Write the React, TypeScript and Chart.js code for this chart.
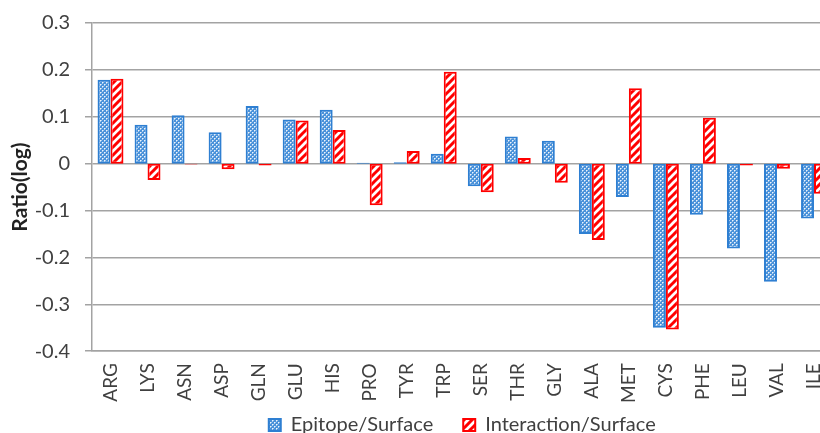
import React, { useEffect, useRef } from "react";
import { Chart, registerables } from "chart.js";

Chart.register(...registerables);

const categories = ["ARG", "LYS", "ASN", "ASP", "GLN", "GLU", "HIS", "PRO", "TYR", "TRP", "SER", "THR", "GLY", "ALA", "MET", "CYS", "PHE", "LEU", "VAL", "ILE"];
const epitopeSurface = [0.179, 0.083, 0.103, 0.067, 0.123, 0.094, 0.115, 0.002, 0.003, 0.021, -0.048, 0.058, 0.049, -0.150, -0.071, -0.350, -0.109, -0.181, -0.252, -0.117];
const interactionSurface = [0.181, -0.035, -0.002, -0.012, -0.004, 0.092, 0.072, -0.089, 0.027, 0.196, -0.061, 0.012, -0.041, -0.163, 0.161, -0.354, 0.098, -0.004, -0.011, -0.064];
const seriesNames = ["Epitope/Surface", "Interaction/Surface"];
const yMin = -0.4;
const yMax = 0.3;
const yStep = 0.1;

const FONT = "Lato, 'Open Sans', sans-serif";
const TEXT = "#404040";
const GRID = "#a3a3a3";
const BLUE = "#2e7fd2";
const RED = "#ff0000";

function bluePattern(): CanvasPattern | string {
  const c = document.createElement("canvas");
  c.width = 4;
  c.height = 4;
  const g = c.getContext("2d");
  if (!g) return BLUE;
  g.fillStyle = "#4a92da";
  g.fillRect(0, 0, 4, 4);
  g.fillStyle = "rgba(255,255,255,0.9)";
  g.fillRect(0, 0, 1, 1);
  g.fillRect(2, 2, 1, 1);
  g.fillStyle = "rgba(255,255,255,0.5)";
  g.fillRect(1, 0, 1, 1);
  g.fillRect(3, 2, 1, 1);
  g.fillRect(0, 1, 1, 1);
  g.fillRect(2, 3, 1, 1);
  return g.createPattern(c, "repeat") || BLUE;
}

function redPattern(): CanvasPattern | string {
  const s = 8;
  const c = document.createElement("canvas");
  c.width = s;
  c.height = s;
  const g = c.getContext("2d");
  if (!g) return RED;
  g.fillStyle = "#ffffff";
  g.fillRect(0, 0, s, s);
  g.strokeStyle = RED;
  g.lineWidth = 3;
  g.beginPath();
  for (let k = -1; k <= 1; k++) {
    g.moveTo(k * s - 1, s + 1);
    g.lineTo(k * s + s + 1, -1);
  }
  g.stroke();
  return g.createPattern(c, "repeat") || RED;
}

export default function App() {
  const ref = useRef<HTMLCanvasElement | null>(null);

  useEffect(() => {
    if (!ref.current) return;
    const chart = new Chart(ref.current, {
      type: "bar",
      data: {
        labels: categories,
        datasets: [
          {
            label: seriesNames[0],
            data: epitopeSurface,
            backgroundColor: bluePattern() as any,
            borderColor: BLUE,
            borderWidth: 2,
            borderSkipped: false,
          },
          {
            label: seriesNames[1],
            data: interactionSurface,
            backgroundColor: redPattern() as any,
            borderColor: RED,
            borderWidth: 2,
            borderSkipped: false,
          },
        ],
      },
      options: {
        responsive: false,
        animation: false,
        layout: { padding: { top: 9, right: 8, left: 8, bottom: 0 } },
        datasets: { bar: { barPercentage: 1, categoryPercentage: 0.7 } },
        plugins: {
          tooltip: { enabled: false },
          legend: {
            position: "bottom",
            fullSize: false,
            labels: {
              boxWidth: 12,
              boxHeight: 12,
              padding: 0,
              color: TEXT,
              font: { family: FONT, size: 20 },
              generateLabels: (ch: any) => {
                const items = Chart.defaults.plugins.legend.labels.generateLabels(ch);
                return items.map((it: any, i: number) => ({
                  ...it,
                  text: i < items.length - 1 ? it.text + "\u2003\u2003" : it.text,
                }));
              },
            },
          },
        },
        scales: {
          x: {
            grid: { display: false, drawTicks: false, tickLength: 0 },
            border: { display: true, color: GRID, width: 1.5 },
            ticks: {
              minRotation: 90,
              maxRotation: 90,
              autoSkip: false,
              padding: 12,
              color: TEXT,
              font: { family: FONT, size: 19 },
            },
          },
          y: {
            min: yMin,
            max: yMax,
            afterFit: (scale: any) => {
              scale.width = 84;
            },
            grid: { color: GRID, lineWidth: 1.5, tickLength: 7 },
            border: { display: true, color: GRID, width: 1.5 },
            ticks: {
              stepSize: yStep,
              padding: 15,
              color: TEXT,
              font: { family: FONT, size: 20 },
              callback: (v: any) => {
                const n = Math.round(Number(v) * 10) / 10;
                return n === 0 ? "0" : n.toFixed(1);
              },
            },
            title: {
              display: true,
              text: "Ratio(log)",
              color: "#222222",
              font: { family: FONT, size: 21, weight: "bold" },
              padding: { top: 0, bottom: 2 },
            },
          },
        },
      },
    });
    return () => chart.destroy();
  }, []);

  return (
    <div style={{ position: "fixed", left: 0, top: 0, width: 820, height: 433, overflow: "hidden", background: "#fff" }}>
      <canvas ref={ref} width={849} height={449} style={{ display: "block", marginTop: -4 }} />
    </div>
  );
}
